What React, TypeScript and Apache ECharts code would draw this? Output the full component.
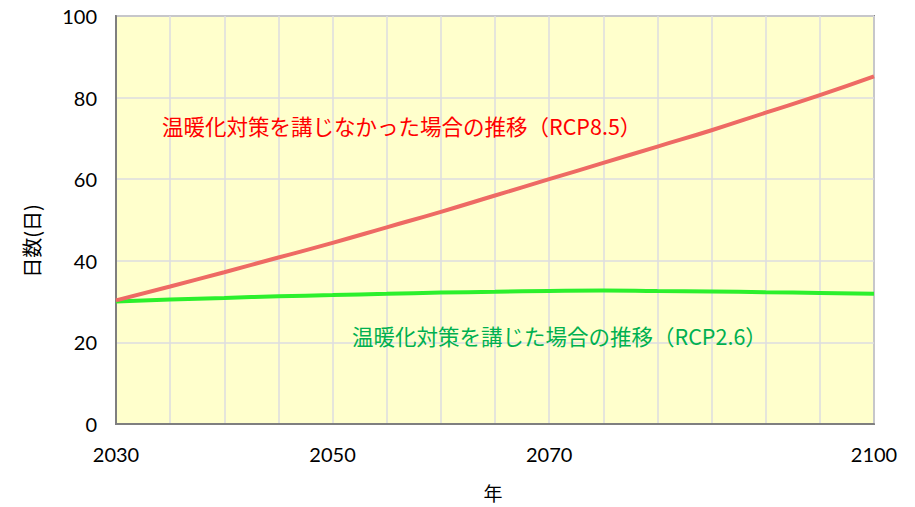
import React, { useEffect, useRef } from "react";
import * as echarts from "echarts";

const years = [2030, 2035, 2040, 2045, 2050, 2055, 2060, 2065, 2070, 2075, 2080, 2085, 2090, 2095, 2100];
const rcp85 = [30.3, 33.7, 37.2, 40.8, 44.4, 48.2, 52.0, 56.0, 60.0, 64.0, 68.0, 72.0, 76.3, 80.6, 85.2];
const rcp26 = [30.0, 30.5, 30.9, 31.3, 31.6, 31.9, 32.2, 32.4, 32.6, 32.7, 32.6, 32.5, 32.3, 32.1, 31.9];
const shownXLabels = [2030, 2050, 2070, 2100];
const label85 = "温暖化対策を講じなかった場合の推移（RCP8.5）";
const label26 = "温暖化対策を講じた場合の推移（RCP2.6）";
const yAxisTitle = "日数(日)";
const xAxisTitle = "年";

const numFont = "Lato, 'Noto Sans', sans-serif";
const cjkFont = "'Noto Sans CJK JP', sans-serif";

export default function App() {
  const ref = useRef<HTMLDivElement>(null);
  useEffect(() => {
    if (!ref.current) return;
    const chart = echarts.init(ref.current, undefined, { renderer: "svg" });
    const gridColor = "#dcdce0";
    chart.setOption({
      animation: false,
      grid: {
        left: 116,
        top: 16,
        right: 41,
        bottom: 83,
        show: true,
        backgroundColor: "#FFFFCC",
        borderColor: "#888888",
        borderWidth: 2,
      },
      xAxis: {
        type: "value",
        min: 2030,
        max: 2100,
        interval: 5,
        axisLine: { show: true, lineStyle: { color: "#7f7f7f", width: 2 } },
        axisTick: { show: false },
        splitLine: { show: true, lineStyle: { color: gridColor, width: 1.5 } },
        axisLabel: {
          margin: 20,
          fontSize: 20,
          fontFamily: numFont,
          color: "#000",
          formatter: (v: number) => (shownXLabels.includes(v) ? String(v) : ""),
        },
      },
      yAxis: {
        type: "value",
        min: 0,
        max: 100,
        interval: 20,
        axisLine: { show: true, lineStyle: { color: "#7f7f7f", width: 2 } },
        axisTick: { show: false },
        splitLine: { show: true, lineStyle: { color: gridColor, width: 1.5 } },
        axisLabel: {
          margin: 19,
          fontSize: 20,
          fontFamily: numFont,
          color: "#000",
        },
      },
      series: [
        {
          type: "line",
          name: "RCP8.5",
          data: years.map((y, i) => [y, rcp85[i]]),
          smooth: true,
          showSymbol: false,
          lineStyle: { color: "#EE6A64", width: 4 },
          z: 3,
        },
        {
          type: "line",
          name: "RCP2.6",
          data: years.map((y, i) => [y, rcp26[i]]),
          smooth: true,
          showSymbol: false,
          lineStyle: { color: "#2CF02C", width: 4 },
          z: 2,
        },
      ],
      graphic: [
        {
          type: "text",
          x: 162,
          y: 125,
          style: {
            text: label85,
            fontSize: 21.5,
            fontFamily: cjkFont,
            fill: "#FF0000",
            align: "left",
            verticalAlign: "middle",
          },
          z: 10,
        },
        {
          type: "text",
          x: 352,
          y: 335,
          style: {
            text: label26,
            fontSize: 21.5,
            fontFamily: cjkFont,
            fill: "#00B050",
            align: "left",
            verticalAlign: "middle",
          },
          z: 10,
        },
        {
          type: "text",
          x: 31,
          y: 241,
          rotation: Math.PI / 2,
          style: {
            text: yAxisTitle,
            fontSize: 20,
            fontFamily: cjkFont,
            fill: "#000",
            align: "center",
            verticalAlign: "middle",
          },
        },
        {
          type: "text",
          x: 493,
          y: 492,
          style: {
            text: xAxisTitle,
            fontSize: 19,
            fontFamily: cjkFont,
            fill: "#000",
            align: "center",
            verticalAlign: "middle",
          },
        },
      ],
    });
    return () => chart.dispose();
  }, []);
  return (
    <div
      ref={ref}
      style={{ position: "fixed", left: 0, top: 0, width: 915, height: 507, background: "#fff" }}
    />
  );
}
